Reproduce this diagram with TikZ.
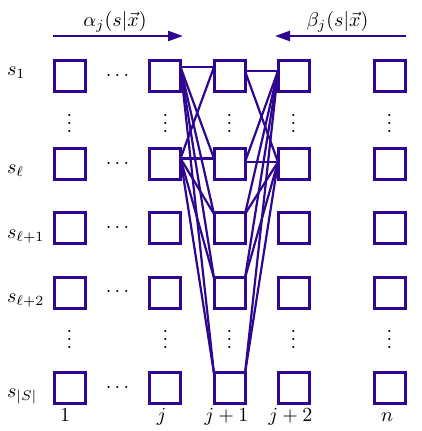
\documentclass[tikz,border=0pt]{standalone}
\usetikzlibrary{arrows.meta}
\definecolor{ink}{RGB}{46,6,145}
\begin{document}
\begin{tikzpicture}[x=1pt,y=-1pt,
  cell/.style={draw=ink, line width=3pt, minimum size=31pt, inner sep=0pt, outer sep=0pt},
  lbl/.style={inner sep=0pt, outer sep=0pt, scale=2},
  hd/.style={lbl, anchor=base},
  vd/.style={lbl, anchor=south},
  link/.style={draw=ink, line width=2.2pt},
  flow/.style={draw=ink, line width=2.3pt, -{Triangle[length=15pt,width=10pt]}}]
\useasboundingbox (0,0) rectangle (421,431);

% boxes
\foreach \c/\x in {A/69.5,B/165,C/229.5,D/293.5,E/389.5}{
  \foreach \r/\y in {1/76,2/164,3/228,4/292.5,5/388}{
    \node[cell] (\c\r) at (\x,\y) {};
  }
}

% edges j -> j+1
\foreach \s/\sy in {1/9,2/5.5}{
  \foreach \t/\ty in {1/9,2/5.5,3/14,4/14.5,5/14.5}{
    \draw[link] ([yshift=\sy pt]B\s.east) -- ([yshift=\ty pt]C\t.west);
  }
}
% edges j+1 -> j+2
\foreach \s/\sy in {1/5,2/2}{
  \foreach \t/\ty in {1/5,2/2,3/14,4/14.5,5/14.5}{
    \draw[link] ([yshift=\ty pt]C\t.east) -- ([yshift=\sy pt]D\s.west);
  }
}

% redraw boxes on top
\foreach \c in {B,C,D}{
  \foreach \r in {1,2,3,4,5}{
    \draw[draw=ink, line width=3pt] (\c\r.north west) rectangle (\c\r.south east);
  }
}

% row labels
\node[lbl,anchor=base west] (L1) at (7,75.5) {$s_1$};
\node[lbl,anchor=base west] (L2) at (7,173) {$s_\ell$};
\node[lbl,anchor=base west] (L3) at (7,238) {$s_{\ell+1}$};
\node[lbl,anchor=base west] (L4) at (7,302) {$s_{\ell+2}$};
\node[lbl,anchor=base west] (L5) at (7,397) {$s_{|S|}$};

% column labels
\node[hd] (N1) at (65,421) {$1$};
\node[hd] (Nj) at (161.5,421) {$j$};
\node[hd] (Nj1) at (226.5,421) {$j+1$};
\node[hd] (Nj2) at (290.5,421) {$j+2$};
\node[hd] (Nn) at (387,421) {$n$};

% horizontal dots
\foreach \r/\y in {1/76,2/164,3/228,4/292.5,5/388}{
  \node[hd] (H\r) at (117.5,\y+4) {$\cdots$};
}
% vertical dots
\foreach \c/\x in {A/69.5,B/165.5,C/229.5,D/293.5,E/389.5}{
  \node[vd] (V\c1) at (\x,132) {$\vdots$};
  \node[vd] (V\c2) at (\x,348) {$\vdots$};
}

% arrows and headers
\coordinate (aS) at (53,36);
\coordinate (aE) at (183,36);
\coordinate (bS) at (406,36);
\coordinate (bE) at (275,36);
\draw[flow] (aS) -- (aE);
\draw[flow] (bS) -- (bE);
\node[hd] (alpha) at (115,27) {$\alpha_j(s|\vec{x})$};
\node[hd] (beta) at (337.5,27) {$\beta_j(s|\vec{x})$};
\end{tikzpicture}
\end{document}
